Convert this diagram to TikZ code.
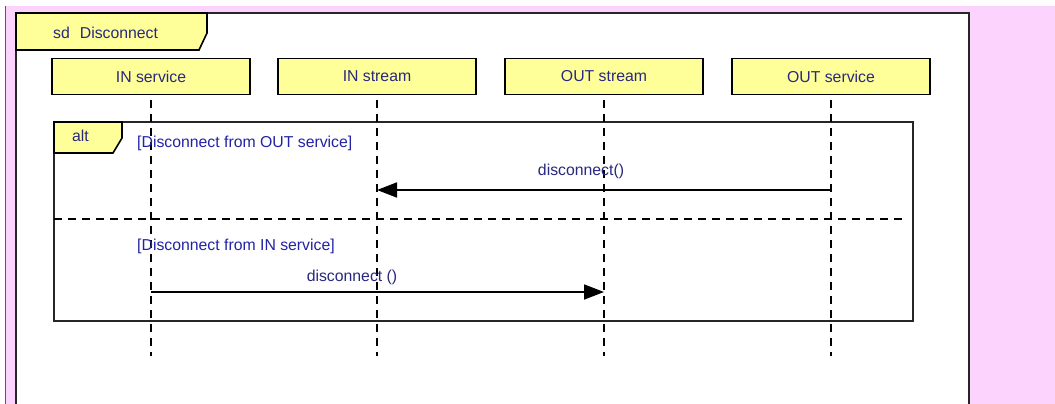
\documentclass[tikz,border=0pt]{standalone}
\usepackage{fontspec}
\setmainfont{Liberation Sans}
\usetikzlibrary{arrows.meta,positioning,calc}
\definecolor{umlYellow}{RGB}{255,255,153}
\definecolor{umlPink}{RGB}{252,211,252}
\definecolor{umlPurple}{RGB}{150,50,150}
\definecolor{umlNavy}{RGB}{40,40,125}
\definecolor{umlBlue}{RGB}{35,35,165}
\tikzset{
	lbox/.style={
		draw=black,
		fill=umlYellow,
		line width=1.8pt,
		minimum width=198pt,
		minimum height=36pt,
		inner sep=0pt,
		text=umlNavy,
		font=\fontsize{15.8}{18}\selectfont
	},
	ltab/.style={draw=black, fill=umlYellow, line width=1.6pt},
	lline/.style={line width=1.8pt, dash pattern=on 8pt off 6pt},
	msg/.style={-{Triangle[length=20pt,width=15pt]}, line width=1.8pt},
	mlbl/.style={inner sep=0pt, text=umlNavy, font=\fontsize{15.8}{18}\selectfont},
	guard/.style={inner sep=0pt, anchor=west, text=umlBlue, font=\fontsize{15.8}{18}\selectfont}
}

\begin{document}
\begin{tikzpicture}[x=1pt, y=-1pt]
	\useasboundingbox (0,0) rectangle (1055,404);
	\clip (0,0) rectangle (1055,404);
	% background
	\fill[white] (0,0) rectangle (1055,404);
	\fill[umlPink] (6,6) rectangle (1055,404);
	\draw[umlPurple, line width=1pt] (5.5,6) -- (5.5,404);
	% sd frame
	\draw[black!85, fill=white, line width=1.8pt] (16,13) rectangle (969,430);
	\draw[ltab] (16,13) -- (207,13) -- (207,33) -- (199,50) -- (16,50) -- cycle;
	\node[mlbl, anchor=west] (sdlbl) at (53,33) {sd\hspace{10pt}Disconnect};
	% lifelines
	\node[lbox] (ins) at (151,76.5) {IN service};
	\node[lbox] (inst) at (377,76.5) {IN stream};
	\node[lbox] (outst) at (604,76.5) {OUT stream};
	\node[lbox] (outs) at (831,76.5) {OUT service};
	\coordinate (insEnd) at (151,356);
	\coordinate (instEnd) at (377,356);
	\coordinate (outstEnd) at (604,356);
	\coordinate (outsEnd) at (831,356);
	% alt fragment
	\draw[black!85, line width=1.8pt] (54,122) rectangle (913,321);
	\draw[ltab] (54,122) -- (122,122) -- (122,138) -- (113,153) -- (54,153) -- cycle;
	\node[mlbl, anchor=west] (altlbl) at (72,136) {alt};
	\draw[lline] ([yshift=-5pt]ins.south) -- (insEnd);
	\draw[lline] ([yshift=-5pt]inst.south) -- (instEnd);
	\draw[lline] ([yshift=-5pt]outst.south) -- (outstEnd);
	\draw[lline] ([yshift=-5pt]outs.south) -- (outsEnd);
	\coordinate (sepL) at (54,219);
	\coordinate (sepR) at (905,219);
	\draw[lline] (sepL) -- (sepR);
	\node[guard] (g1) at (137,143) {[Disconnect from OUT service]};
	\node[guard] (g2) at (137,246) {[Disconnect from IN service]};
	% messages
	\coordinate (m1s) at (831,190);
	\coordinate (m1e) at (377,190);
	\coordinate (m2s) at (151,292);
	\coordinate (m2e) at (604,292);
	\draw[msg] (m1s) -- (m1e);
	\draw[msg] (m2s) -- (m2e);
	\node[mlbl] (l1) at (581,171) {disconnect()};
	\node[mlbl] (l2) at (352,277) {disconnect ()};
\end{tikzpicture}
\end{document}
